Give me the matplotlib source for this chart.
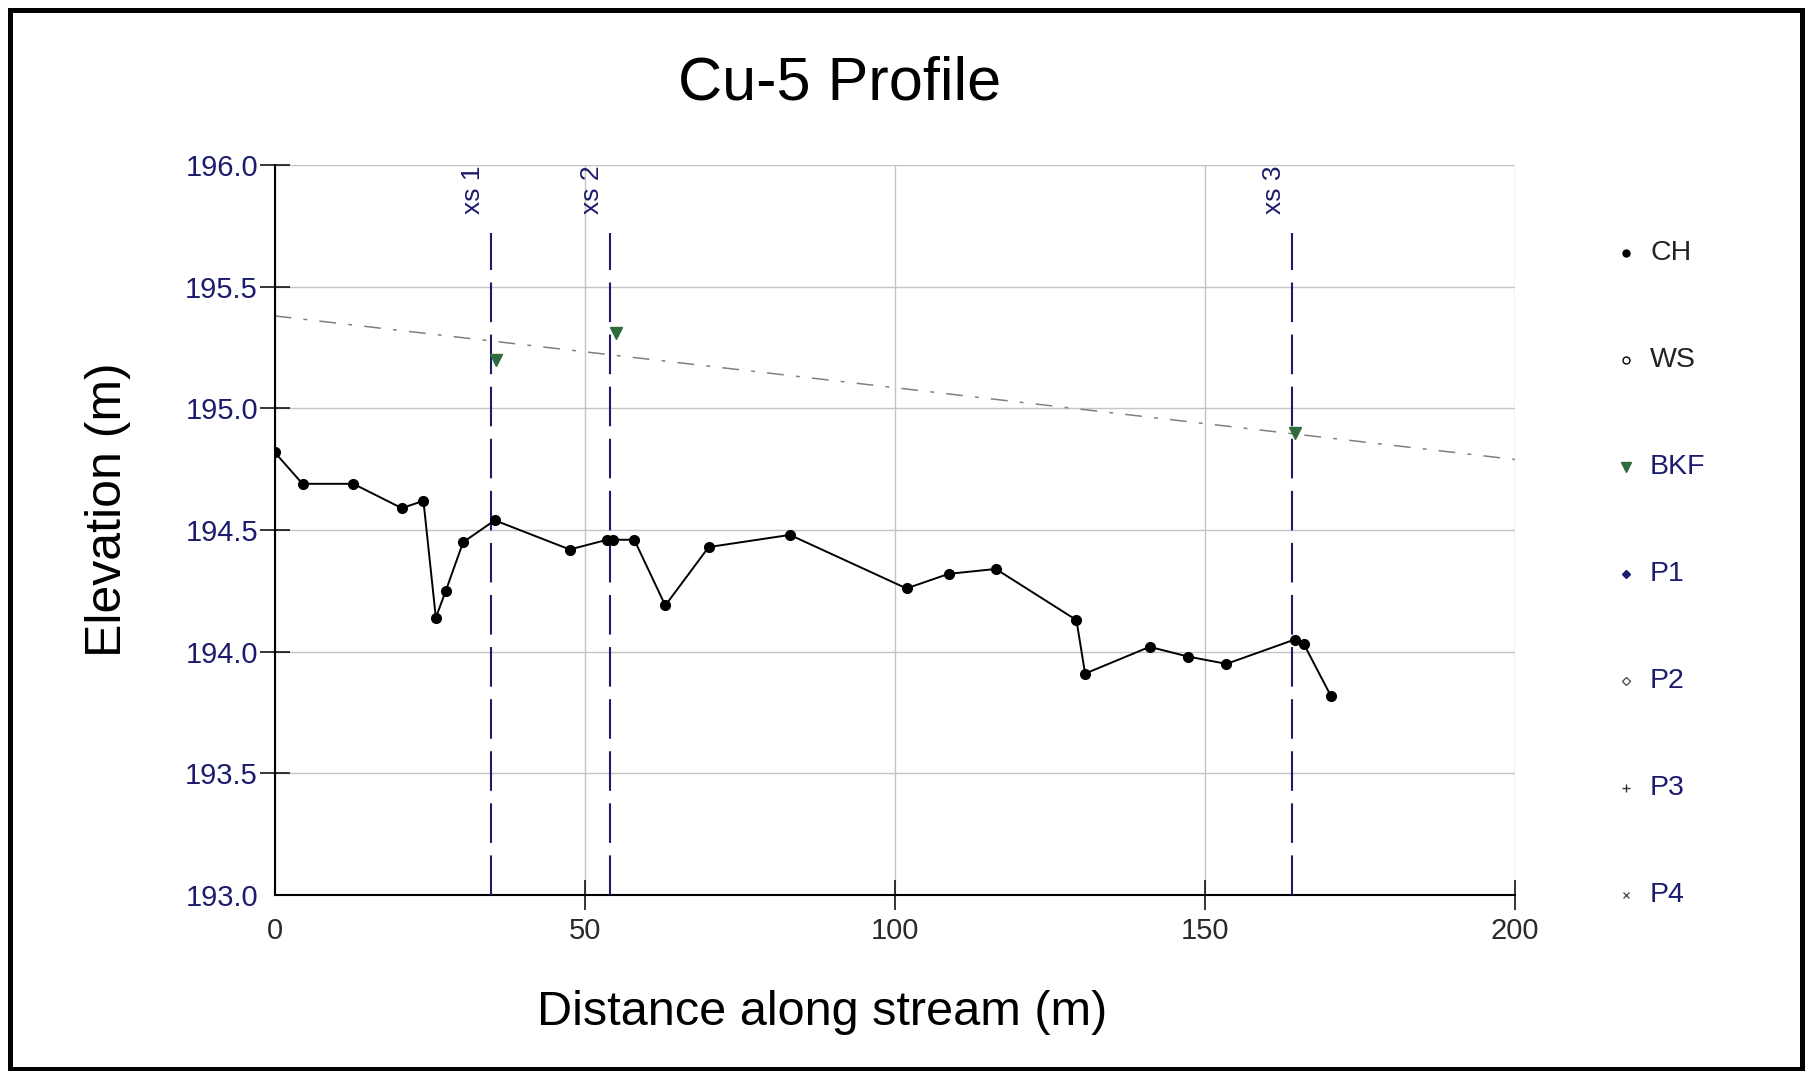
import matplotlib
matplotlib.use("Agg")
import matplotlib.pyplot as plt
from matplotlib.patches import Rectangle

plt.rcParams["font.family"] = ["Liberation Sans", "DejaVu Sans"]

# channel profile (CH): distance along stream (m), elevation (m)
ch_x = [0.0, 4.5, 12.7, 20.5, 24.0, 26.0, 27.6, 30.4, 35.5, 47.6, 53.6, 54.6,
        58.0, 63.0, 70.0, 83.1, 101.9, 108.7, 116.3, 129.3, 130.7, 141.1,
        147.3, 153.5, 164.5, 166.0, 170.3]
ch_y = [194.82, 194.69, 194.69, 194.59, 194.62, 194.14, 194.25, 194.45, 194.54,
        194.42, 194.46, 194.46, 194.46, 194.19, 194.43, 194.48, 194.26, 194.32,
        194.34, 194.13, 193.91, 194.02, 193.98, 193.95, 194.05, 194.03, 193.82]

# bankfull indicators and fitted bankfull line
bkf_x = [35.7, 55.1, 164.5]
bkf_y = [195.20, 195.31, 194.90]
bkf_fit_x = [0, 200]
bkf_fit_y = [195.38, 194.79]

# cross-section stations
xs_names = ["xs 1", "xs 2", "xs 3"]
xs_pos = [34.9, 54.1, 164.0]
xs_top = 195.72

legend_labels = ["CH", "WS", "BKF", "P1", "P2", "P3", "P4"]

NAVY = "#1c1c6e"
GREEN = "#2f6b3c"
GRID = "#c4c4c4"

fig = plt.figure(figsize=(18.09, 10.71), dpi=100)
ax = fig.add_axes([0.1518, 0.1643, 0.6856, 0.6816])

ax.set_xlim(0, 200)
ax.set_ylim(193.0, 196.0)
ax.set_xticks([0, 50, 100, 150, 200])
ax.set_yticks([193.0, 193.5, 194.0, 194.5, 195.0, 195.5, 196.0])
ax.set_yticklabels([f"{v:.1f}" for v in ax.get_yticks()])
ax.grid(True, color=GRID, lw=1.0, zorder=0)
ax.set_axisbelow(True)
for s in ("top", "right"):
    ax.spines[s].set_visible(False)
for s in ("left", "bottom"):
    ax.spines[s].set_linewidth(1.5)
ax.tick_params(axis="both", direction="inout", length=21, width=1.1,
               labelsize=21)
ax.tick_params(axis="y", pad=1.5, labelcolor=NAVY)
ax.tick_params(axis="x", pad=5.5, labelcolor="#2a2a2a")
ax.yaxis.get_major_ticks()[0].tick1line.set_visible(False)
ax.xaxis.get_major_ticks()[0].tick1line.set_visible(False)

# bankfull line
ax.plot(bkf_fit_x, bkf_fit_y, color="#808080", lw=1.1,
        linestyle=(0, (11, 8, 2.5, 8)), zorder=2)

# cross-section markers
for name, xv in zip(xs_names, xs_pos):
    ax.plot([xv, xv], [193.0, xs_top], color=NAVY, lw=1.5,
            linestyle=(0, (19, 6)), zorder=3)
    ax.annotate(name, (xv, 196.0), xytext=(-13, 0), textcoords="offset points",
                rotation=90, ha="center", va="top", fontsize=19, color=NAVY)

# channel profile
ax.plot(ch_x, ch_y, color="black", lw=1.4, marker="o", ms=7, zorder=4)
ax.plot(bkf_x, bkf_y, "v", color=GREEN, ms=9, zorder=5)

# legend column on the right
markers = [dict(marker="o", color="black", ms=5),
           dict(marker="o", mfc="white", mec="black", ms=5, mew=1),
           dict(marker="v", color=GREEN, ms=7),
           dict(marker="D", color=NAVY, ms=4),
           dict(marker="D", mfc="white", mec="#555", ms=4, mew=1),
           dict(marker="+", color="#333", ms=6, mew=1),
           dict(marker="x", color="#555", ms=5, mew=1)]
text_cols = ["#222", "#222", NAVY, NAVY, NAVY, NAVY, NAVY]
top_y, bot_y = 1 - 253 / 1071, 1 - 895 / 1071
step = (top_y - bot_y) / (len(legend_labels) - 1)
for i, (lab, mk, tc) in enumerate(zip(legend_labels, markers, text_cols)):
    yy = top_y - i * step
    fig.add_artist(plt.Line2D([1626 / 1809], [yy], linestyle="none", **mk))
    fig.text(1650 / 1809, yy, lab, fontsize=20.5, color=tc, va="center")

fig.text(840 / 1809, 1 - 100 / 1071, "Cu-5 Profile", fontsize=44,
         ha="center", va="baseline")
fig.text(822 / 1809, 1 - 1025 / 1071, "Distance along stream (m)", fontsize=35,
         ha="center", va="baseline")
fig.text(108 / 1809, 1 - 510 / 1071, "Elevation (m)", fontsize=36,
         rotation=90, ha="center", va="center")

# outer frame
fig.add_artist(Rectangle((9.5 / 1809, 2 / 1071), 1792 / 1809, 1059.5 / 1071,
                         transform=fig.transFigure, fill=False, lw=3.6,
                         edgecolor="black"))

fig.savefig("out.png", dpi=100)
